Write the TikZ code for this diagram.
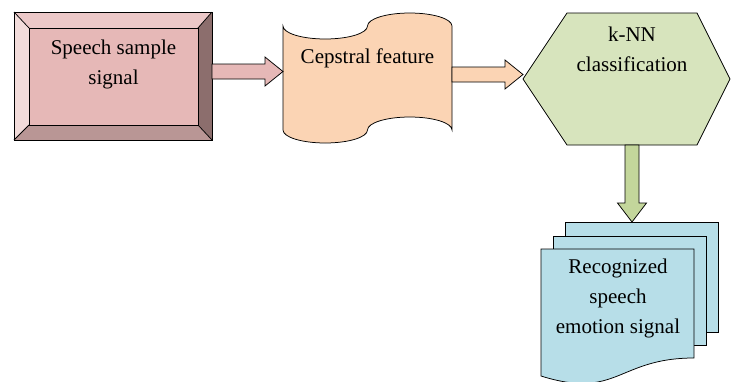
\documentclass[tikz,border=0pt]{standalone}
\usepackage{fontspec}
\setmainfont{Liberation Serif}
\usetikzlibrary{calc}
\tikzset{every picture/.style={line width=0.75pt}}

\definecolor{bevelmid}{HTML}{E6B8B7}
\definecolor{beveltop}{HTML}{ECC8C8}
\definecolor{bevelleft}{HTML}{F2DCDB}
\definecolor{bevelright}{HTML}{8C6E6D}
\definecolor{bevelbottom}{HTML}{B99695}
\definecolor{tapefill}{HTML}{FBD4B4}
\definecolor{hexfill}{HTML}{D7E4BD}
\definecolor{downfill}{HTML}{C3D69B}
\definecolor{docfill}{HTML}{B7DEE8}

% 粗箭头：#1 样式, #2 起点, #3 终点
\newcommand{\fatharrow}[3]{%
  \filldraw[#1] let \p1=(#2), \p2=(#3) in
    (\x1,\y1+7.5pt) -- (\x2-18pt,\y1+7.5pt) -- (\x2-18pt,\y1+14.5pt) -- (\x2,\y1)
    -- (\x2-18pt,\y1-14.5pt) -- (\x2-18pt,\y1-7.5pt) -- (\x1,\y1-7.5pt) -- cycle;}
\newcommand{\fatvarrow}[3]{%
  \filldraw[#1] let \p1=(#2), \p2=(#3) in
    (\x1-7pt,\y1) -- (\x1-7pt,\y2+19pt) -- (\x1-14.5pt,\y2+19pt) -- (\x1,\y2)
    -- (\x1+14.5pt,\y2+19pt) -- (\x1+7pt,\y2+19pt) -- (\x1+7pt,\y1) -- cycle;}

\begin{document}
\begin{tikzpicture}[x=1pt, y=-1pt, font=\fontsize{21}{30}\selectfont]
    \useasboundingbox (0,0) rectangle (731,381);
    \clip (0,0) rectangle (731,381);

    % 语音信号框（斜面）
    \fill[bevelmid] (29,28) rectangle (198,125);
    \fill[beveltop] (14,12) -- (212,12) -- (198,28) -- (29,28) -- cycle;
    \fill[bevelleft] (14,12) -- (29,28) -- (29,125) -- (14,140) -- cycle;
    \fill[bevelright] (212,12) -- (212,140) -- (198,125) -- (198,28) -- cycle;
    \fill[bevelbottom] (14,140) -- (29,125) -- (198,125) -- (212,140) -- cycle;
    \draw (14,12) rectangle (212,140) (29,28) rectangle (198,125);
    \draw (14,12) -- (29,28) (212,12) -- (198,28) (14,140) -- (29,125) (212,140) -- (198,125);
    \node[align=center] (speech) at (113.5,64) {Speech sample\\signal};

    % 倒谱特征（纸带）
    \filldraw[fill=tapefill] (283,26)
        arc[start angle=180, end angle=0, x radius=42.25, y radius=13]
        arc[start angle=180, end angle=360, x radius=42.25, y radius=13]
        -- (452,130)
        arc[start angle=0, end angle=-180, x radius=42.25, y radius=13]
        arc[start angle=0, end angle=180, x radius=42.25, y radius=13] -- cycle;
    \node (cepstral) at (367.5,58) {Cepstral feature};

    % k-NN 分类（六边形）
    \filldraw[fill=hexfill] (523,79) -- (567,13) -- (697,13) -- (730,79) -- (697,145) -- (567,145) -- cycle;
    \node[align=center] (knn) at (632,49) {k-NN\\classification};

    % 识别结果（多文档）
    \filldraw[fill=docfill] (565,222) rectangle (718,332);
    \filldraw[fill=docfill] (553,236) rectangle (706,345);
    \filldraw[fill=docfill] (541,249) -- (694,249) -- (694,358)
        .. controls (617.5,358) and (617.5,400) .. (541,376) -- cycle;
    \node[align=center] (result) at (618,298) {Recognized\\speech\\emotion signal};

    % 箭头
    \coordinate (speech-e) at (212,71.5);
    \coordinate (cepstral-w) at (283,71.5);
    \coordinate (cepstral-e) at (452,74.5);
    \coordinate (knn-w) at (523,74.5);
    \coordinate (knn-s) at (632,145);
    \coordinate (result-n) at (632,222);
    \fatharrow{fill=bevelmid}{speech-e}{cepstral-w}
    \fatharrow{fill=tapefill}{cepstral-e}{knn-w}
    \fatvarrow{fill=downfill}{knn-s}{result-n}
\end{tikzpicture}
\end{document}
